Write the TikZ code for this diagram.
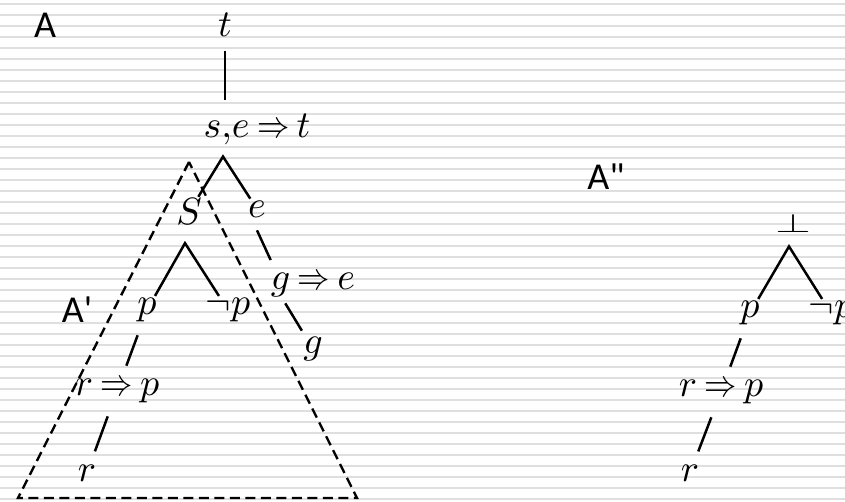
\documentclass[tikz,border=0pt]{standalone}
\usepackage{fontspec}
\usepackage{graphicx}
\newfontfamily\labelfont{Carlito}
\DeclareFontShape{OML}{cmm}{m}{it}{<->cmmi10}{}
\DeclareFontShape{OMS}{cmsy}{m}{n}{<->cmsy10}{}
\newcommand\imp{\mathrel{\mkern-1.5mu\scalebox{0.85}[1]{$\Rightarrow$}\mkern-1.5mu}}
\usetikzlibrary{positioning}

\begin{document}
\begin{tikzpicture}[
  x=1pt, y=-1pt,
  node distance=40pt and 40pt, on grid,
  fml/.style={inner sep=2pt, font=\fontsize{38}{44}\selectfont},
  tag/.style={inner sep=2pt, font=\labelfont\fontsize{38}{44}\selectfont},
  branch/.style={line width=2.5pt},
  link/.style={line width=2.5pt, shorten <=12pt, shorten >=12pt},
  region/.style={line width=2.4pt, dash pattern=on 10pt off 5.5pt},
  stripe/.style={fill=gray!25}
]
  % lined background
  \useasboundingbox (0,0) rectangle (845,502);
  \fill[white] (0,0) rectangle (845,502);
  \foreach \y in {4,15,...,499}
    \fill[stripe] (0,\y-1.2) rectangle (845,\y+1.2);

  % derivation A
  \node[fml] (t) at (225,25) {$t$};
  \node[tag, left=180pt of t] (A) {A};
  \node[fml, below right=105pt and 32pt of t] (se) {$s{,}e\imp t$};
  \node[fml, below left=82pt and 68pt of se] (S) {$S$};
  \node[fml, below=79pt of se] (e) {$e$};
  \node[fml, below right=76pt and 56pt of e] (ge) {$g\imp e$};
  \node[fml, below=64pt of ge] (g) {$g$};
  \node[fml, below left=98pt and 42pt of S] (p1) {$p$};
  \node[fml, right=81pt of p1] (np1) {$\neg p$};
  \node[fml, below left=81pt and 30pt of p1] (rp1) {$r\imp p$};
  \node[fml, below left=82pt and 30pt of rp1] (r1) {$r$};
  \node[tag, left=70pt of p1] (A1) {A\textquotesingle};

  \path (t |- se.south) ++(-2,9) coordinate (k1);
  \coordinate (k2) at ([xshift=-4pt,yshift=-16pt]S.south);
  \draw[link] (t) -- (t |- se.north);
  \draw[branch] (S) -- (k1) -- (e);
  \draw[link] ([xshift=6pt]e.south west) -- ([xshift=7pt]ge.north west);
  \draw[link, shorten <=5pt, shorten >=5pt] ([xshift=14pt]ge.south west) -- (g);
  \draw[branch] (p1) -- (k2) -- (np1);
  \draw[link] (p1) -- (rp1);
  \draw[link] (rp1) -- (r1);

  % sub-derivation A'
  \draw[region] (189,162) -- (18,498) -- (357,498) -- cycle;

  % derivation A''
  \node[tag] (A2) at (606,177) {A\textquotedbl};
  \node[fml, below right=46pt and 187pt of A2] (bot) {\scalebox{1.2}[0.7]{$\bot$}};
  \node[fml, below left=90pt and 43pt of bot] (p2) {$p$};
  \node[fml, right=81pt of p2] (np2) {$\neg p$};
  \node[fml, below left=79pt and 29pt of p2] (rp2) {$r\imp p$};
  \node[fml, below left=81pt and 31pt of rp2] (r2) {$r$};

  \coordinate (k3) at ([xshift=-4pt,yshift=-12pt]bot.south);
  \draw[branch] (p2) -- (k3) -- (np2);
  \draw[link] (p2) -- (rp2);
  \draw[link] (rp2) -- (r2);
\end{tikzpicture}
\end{document}
